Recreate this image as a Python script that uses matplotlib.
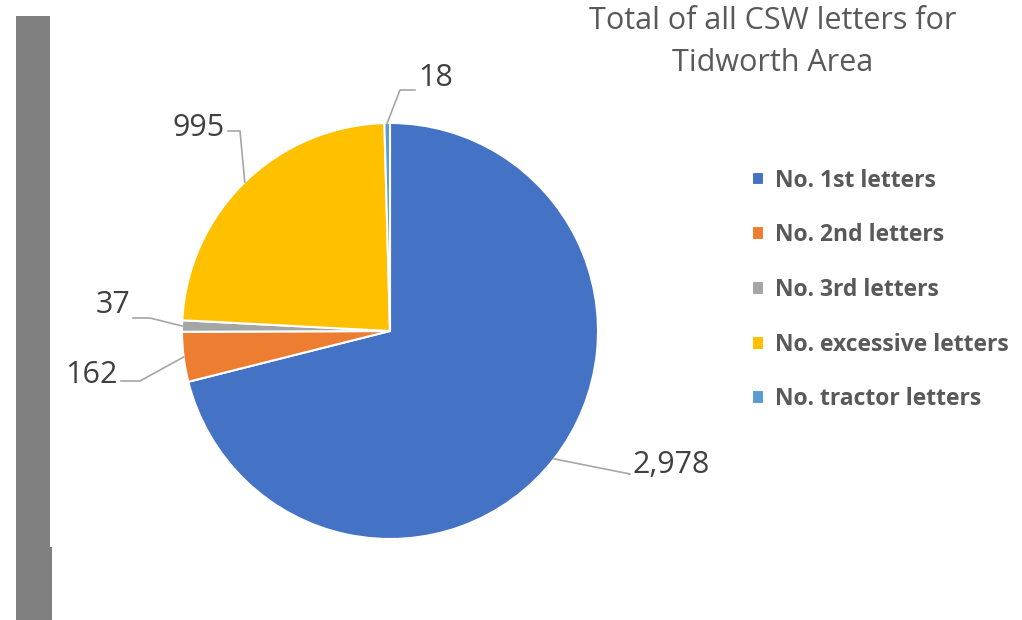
import numpy as np
import matplotlib
matplotlib.use("Agg")
import matplotlib.pyplot as plt
from matplotlib.patches import Rectangle

# ------------------------------------------------
# Data
# ------------------------------------------------
categories = ["No. 1st letters", "No. 2nd letters", "No. 3rd letters",
              "No. excessive letters", "No. tractor letters"]
values = [2978, 162, 37, 995, 18]
value_labels = ["2,978", "162", "37", "995", "18"]
colors = ["#4472C4", "#ED7D31", "#A5A5A5", "#FFC000", "#5B9BD5"]

W, H = 1022, 620
plt.rcParams["font.family"] = ["Open Sans", "DejaVu Sans"]

fig = plt.figure(figsize=(W / 100, H / 100), dpi=100)
ax = fig.add_axes([0, 0, 1, 1])

# ------------------------------------------------
# Pie
# ------------------------------------------------
cx, cy, r = 390, H - 331, 208
wedges, _ = ax.pie(values, colors=colors, startangle=90, counterclock=False,
                   center=(cx, cy), radius=r, frame=True,
                   wedgeprops=dict(edgecolor="white", linewidth=1.5))
ax.set_xlim(0, W)
ax.set_ylim(0, H)
ax.set_aspect("equal")
ax.axis("off")

# gray strip on the left
ax.add_patch(Rectangle((16, 0), 34, H - 16, color="#808080", lw=0))
ax.add_patch(Rectangle((16, 0), 36, H - 547, color="#808080", lw=0))

# label position (text anchor), elbow point, text alignment  -- pixels from top
label_layout = [
    ((632, 465), (630, 474), "left"),
    ((118, 375), (140, 381), "right"),
    ((130, 305), (150, 318), "right"),
    ((225, 128), (240, 131), "right"),
    ((418, 78), (400, 90), "left"),
]

for w, txt, ((tx, ty), (ex, ey), ha) in zip(wedges, value_labels, label_layout):
    ang = np.deg2rad((w.theta1 + w.theta2) / 2)
    px, py = cx + r * np.cos(ang), cy + r * np.sin(ang)
    if ha == "right":
        hx = tx + 3
    else:
        hx = tx - 3
    ax.plot([px, ex, hx], [py, H - ey, H - ey], color="#A6A6A6", lw=1.2)
    ax.text(tx, H - ty, txt, ha=ha, va="center", fontsize=22, color="#404040")

# ------------------------------------------------
# Title and legend
# ------------------------------------------------
ax.text(773, H - 42, "Total of all CSW letters for\nTidworth Area", ha="center",
        va="center", fontsize=22, color="#595959", linespacing=1.55)

leg = ax.legend(wedges, categories, loc="upper left",
                bbox_to_anchor=(731 / W, 1 - 148 / H), frameon=False,
                handlelength=0.55, handleheight=0.55, handletextpad=0.45,
                labelspacing=1.34, prop=dict(size=16.5, weight="bold"))
for t in leg.get_texts():
    t.set_color("#595959")

fig.savefig("out.png", dpi=100)
